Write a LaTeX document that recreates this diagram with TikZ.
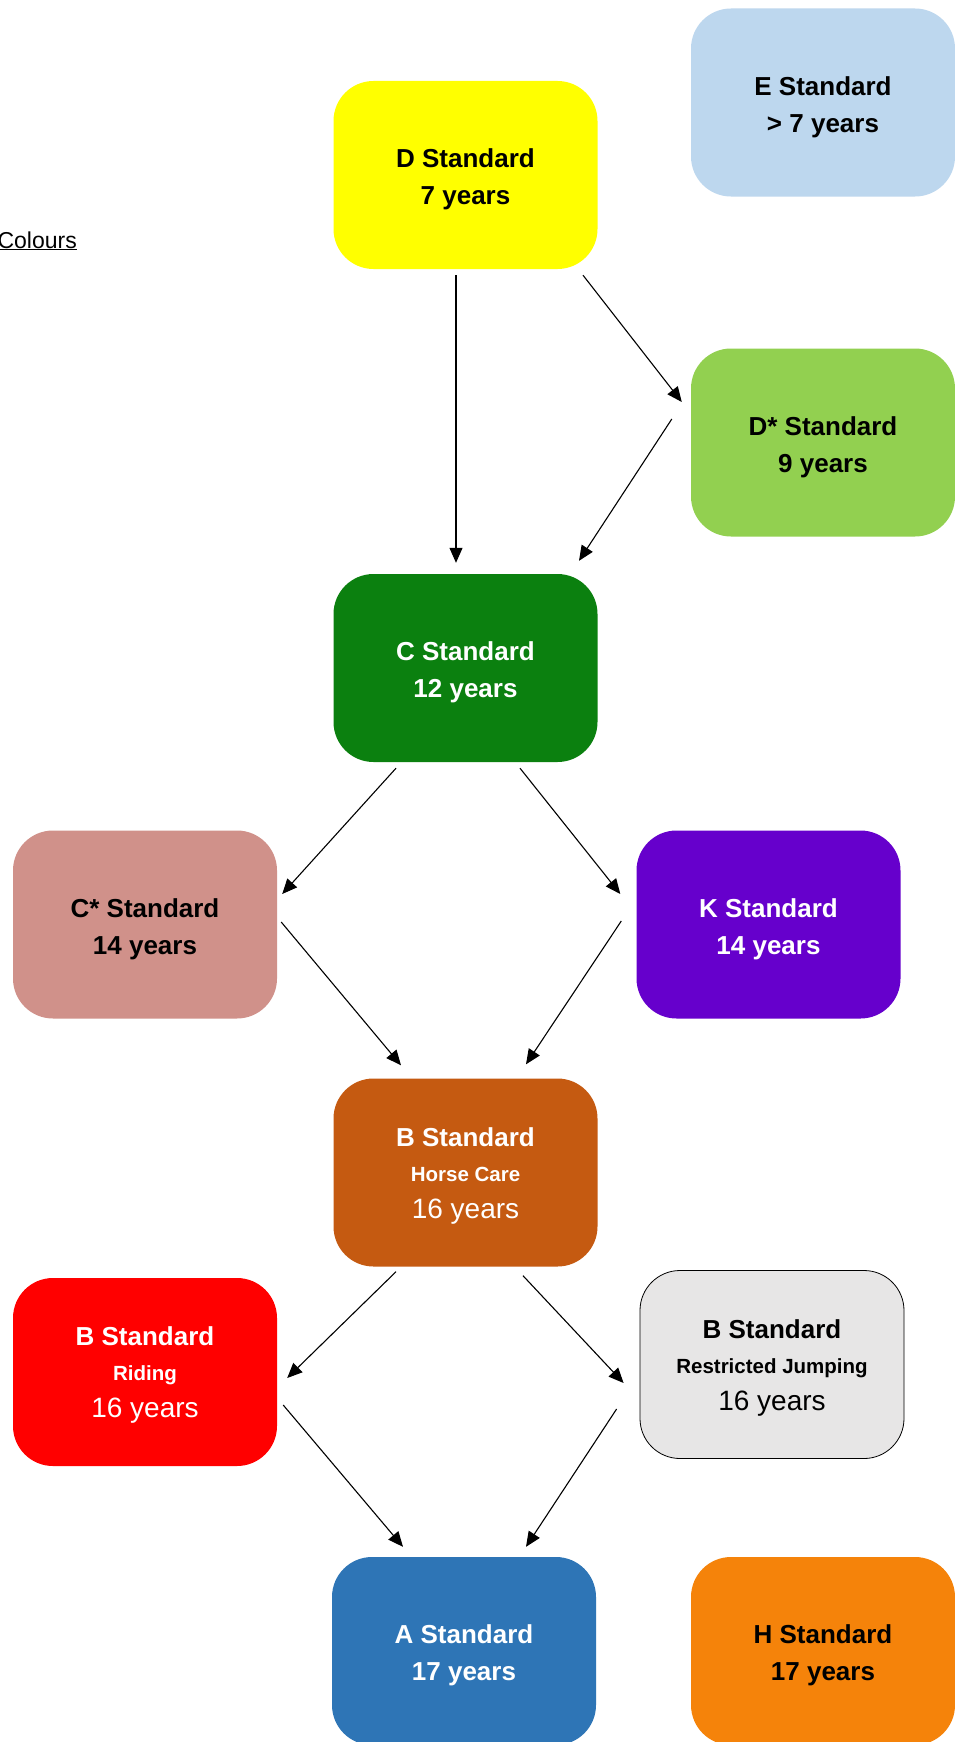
\documentclass[tikz,border=0pt]{standalone}
\usepackage{fontspec}
\setmainfont{Liberation Sans}
\usetikzlibrary{arrows.meta,calc}
\definecolor{cE}{HTML}{BDD7EE}
\definecolor{cD}{HTML}{FFFF00}
\definecolor{cDs}{HTML}{92D050}
\definecolor{cC}{HTML}{0B800F}
\definecolor{cCs}{HTML}{D0918A}
\definecolor{cK}{HTML}{6600CC}
\definecolor{cB}{HTML}{C55A11}
\definecolor{cBR}{HTML}{FF0000}
\definecolor{cBJ}{HTML}{E7E6E6}
\definecolor{cA}{HTML}{2E75B6}
\definecolor{cH}{HTML}{F5830A}
\tikzset{
  stdbox/.style={rectangle, rounded corners=40pt, minimum width=264pt, minimum height=188pt,
    inner sep=0pt, align=center, font=\fontsize{26}{37}\selectfont\bfseries},
  arr/.style={line width=1.1pt, -{Triangle[length=15pt,width=13pt]}}
}
\newcommand{\subl}[1]{{\fontsize{20.5}{30}\selectfont #1}}
\newcommand{\yrs}[1]{{\fontsize{28}{37}\selectfont\mdseries #1}}
\newcommand{\tp}{\rule{0pt}{28pt}}
\newcommand{\tpb}{\rule{0pt}{25pt}}
\begin{document}
\begin{tikzpicture}[x=1pt,y=-1pt]
\useasboundingbox (0,0) rectangle (955,1742);
\fill[white] (0,0) rectangle (955,1742);

\node[anchor=base east, font=\fontsize{23}{28}\selectfont, inner sep=0pt] (col) at (77,248) {\underline{Colours}};

\node[stdbox, fill=cE, text=black] (E) at (823,102.5) {\tp E Standard\\{>} 7 years};
\node[stdbox, fill=cD, text=black] (D) at (465.5,175) {\tp D Standard\\7 years};
\node[stdbox, fill=cDs, text=black] (Ds) at (823,442.5) {\tp D* Standard\\9 years};
\node[stdbox, fill=cC, text=white] (C) at (465.5,668) {\tp C Standard\\12 years};
\node[stdbox, fill=cCs, text=black] (Cs) at (145,924.5) {\tp C* Standard\\14 years};
\node[stdbox, fill=cK, text=white] (K) at (768.5,924.5) {\tp K Standard\\14 years};
\node[stdbox, fill=cB, text=white] (B) at (465.5,1172.5) {\tpb B Standard\\[-2pt]\subl{Horse Care}\\\yrs{16 years}};
\node[stdbox, fill=cBR, text=white] (BR) at (145,1372) {\tpb B Standard\\[-2pt]\subl{Riding}\\\yrs{16 years}};
\node[stdbox, fill=cBJ, text=black, draw=black, line width=0.8pt] (BJ) at (772,1364.5) {\tpb B Standard\\[-2pt]\subl{Restricted Jumping}\\\yrs{16 years}};
\node[stdbox, fill=cA, text=white] (A) at (464,1651) {\tp A Standard\\17 years};
\node[stdbox, fill=cH, text=black] (H) at (823,1651) {\tp H Standard\\17 years};

\draw[arr] ($(D.south)+(-9.5,6)$) -- ($(C.north)+(-9.5,-11)$);
\draw[arr] ($(D.south)+(117.5,6)$) -- ($(Ds.west)+(-9,-40.5)$);
\draw[arr] ($(Ds.west)+(-19,-23.5)$) -- ($(C.north)+(113.5,-13)$);
\draw[arr] ($(C.south)+(-69.5,6)$) -- ($(Cs.east)+(5,-30.5)$);
\draw[arr] ($(C.south)+(54.5,6)$) -- ($(K.west)+(-16,-30.5)$);
\draw[arr] ($(Cs.east)+(4,-2.5)$) -- ($(B.north)+(-64.5,-13)$);
\draw[arr] ($(K.west)+(-15,-3.5)$) -- ($(B.north)+(60.5,-14)$);
\draw[arr] ($(B.south)+(-69.5,5)$) -- ($(BR.east)+(10,6)$);
\draw[arr] ($(B.south)+(57.5,9)$) -- ($(BJ.west)+(-16,18.5)$);
\draw[arr] ($(BR.east)+(6,33)$) -- ($(A.north)+(-61,-10)$);
\draw[arr] ($(BJ.west)+(-23,44.5)$) -- ($(A.north)+(62,-10)$);
\end{tikzpicture}
\end{document}
